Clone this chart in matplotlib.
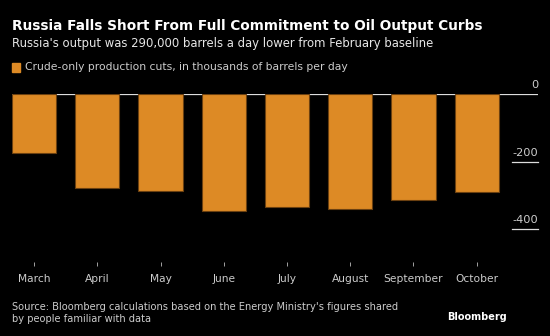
import matplotlib
matplotlib.use("Agg")
import matplotlib.pyplot as plt

months = ["March", "April", "May", "June", "July", "August", "September", "October"]
cuts = [-175, -278, -288, -348, -335, -342, -315, -290]
yticks = [0, -200, -400]

title = "Russia Falls Short From Full Commitment to Oil Output Curbs"
subtitle = "Russia's output was 290,000 barrels a day lower from February baseline"
legend_label = "Crude-only production cuts, in thousands of barrels per day"
source = ("Source: Bloomberg calculations based on the Energy Ministry's figures shared\n"
          "by people familiar with data")

bar_color = "#dd8a25"
W, H = 550, 336

fig = plt.figure(figsize=(W / 100, H / 100), dpi=100, facecolor="black")
ax = fig.add_axes([12 / W, 1 - 262 / H, (538 - 12) / W, (262 - 94.3) / H])
ax.set_facecolor("black")

x = range(len(months))
ax.bar(x, cuts, width=0.7, color=bar_color, edgecolor="#6b4010", linewidth=0.8, zorder=2)
ax.axhline(0, color="#dddddd", lw=0.9, zorder=1)

ax.set_xlim(-0.35, 7.97)
ax.set_ylim(-498, 0)
ax.set_xticks(list(x))
ax.set_xticklabels(months, color="#cccccc", fontsize=7.7)
ax.tick_params(axis="x", direction="out", length=3, width=0.6, color="#bbbbbb", pad=6)
ax.set_yticks([])
for s in ax.spines.values():
    s.set_visible(False)

trans = ax.get_yaxis_transform()
for v in yticks:
    ax.text(1.0, v + 12, f"{v}", transform=trans, ha="right", va="bottom",
            color="#cccccc", fontsize=8.2, clip_on=False)
    if v != 0:
        ax.plot([0.95, 1.0], [v, v], transform=trans, color="#dddddd", lw=0.9, clip_on=False)

fig.text(12 / W, 1 - 26 / H, title, color="white", fontsize=9.85, fontweight="bold", va="center")
fig.text(12 / W, 1 - 43.5 / H, subtitle, color="#e6e6e6", fontsize=8.35, va="center")
fig.patches.append(plt.Rectangle((12 / W, 1 - 71.5 / H), 8 / W, 8 / H, transform=fig.transFigure,
                                 color=bar_color))
fig.text(25 / W, 1 - 67.5 / H, legend_label, color="#cccccc", fontsize=7.75, va="center")
fig.text(12 / W, 1 - 313 / H, source, color="#cccccc", fontsize=7.1, va="center", linespacing=1.25)
fig.text(507 / W, 1 - 317 / H, "Bloomberg", color="white", fontsize=7.0, fontweight="bold",
         va="center", ha="right")

fig.savefig("out.png", dpi=100, facecolor="black")
